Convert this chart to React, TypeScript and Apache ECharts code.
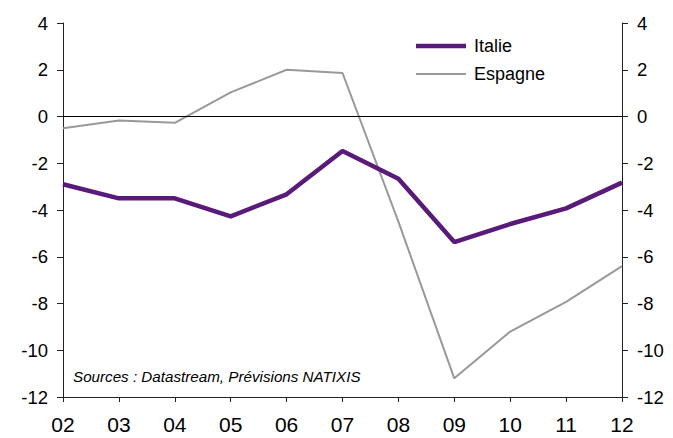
import React, { useEffect, useRef } from "react";
import * as echarts from "echarts";

const categories = ["02", "03", "04", "05", "06", "07", "08", "09", "10", "11", "12"];
const italie = [-2.9, -3.5, -3.5, -4.27, -3.33, -1.48, -2.66, -5.37, -4.6, -3.93, -2.83];
const espagne = [-0.5, -0.17, -0.27, 1.03, 2.0, 1.86, -4.5, -11.2, -9.2, -7.93, -6.4];
const seriesNames = ["Italie", "Espagne"];
const yMin = -12;
const yMax = 4;
const yStep = 2;
const sourceText = "Sources : Datastream, Prévisions NATIXIS";

const FONT = "'Liberation Sans', Arial, sans-serif";
const PURPLE = "#5a1a7a";
const GREY = "#999999";

export default function App() {
  const ref = useRef<HTMLDivElement>(null);
  useEffect(() => {
    document.body.style.margin = "0";
    const chart = echarts.init(ref.current!, null, { renderer: "svg" });
    const axisLineStyle = { color: "#222", width: 1 };
    const yAxisCommon = {
      type: "value" as const,
      min: yMin,
      max: yMax,
      interval: yStep,
      splitLine: { show: false },
      axisLine: { show: true, lineStyle: axisLineStyle },
      axisTick: { show: true, length: 6, lineStyle: axisLineStyle },
      axisLabel: { color: "#000", fontSize: 18.5, fontFamily: FONT, margin: 15 },
    };
    const legendItem = (name: string, y: number, color: string, width: number) => [
      {
        type: "line",
        shape: { x1: 416, y1: y, x2: 466, y2: y },
        style: { stroke: color, lineWidth: width },
      },
      {
        type: "text",
        x: 474,
        y: y,
        style: {
          text: name,
          fontSize: 18,
          fontFamily: FONT,
          fill: "#000",
          verticalAlign: "middle",
          align: "left",
        },
      },
    ];
    chart.setOption({
      animation: false,
      backgroundColor: "#fff",
      grid: { left: 63, right: 51, top: 23, bottom: 41, containLabel: false },
      xAxis: {
        type: "category",
        data: categories,
        boundaryGap: false,
        axisLine: { onZero: false, lineStyle: axisLineStyle },
        axisTick: { show: true, length: 5, alignWithLabel: true, lineStyle: axisLineStyle },
        axisLabel: { color: "#000", fontSize: 21, fontFamily: FONT, margin: 17 },
        splitLine: { show: false },
      },
      yAxis: [
        { ...yAxisCommon, position: "left" },
        { ...yAxisCommon, position: "right" },
      ],
      graphic: [
        ...legendItem(seriesNames[0], 46, PURPLE, 4.5),
        ...legendItem(seriesNames[1], 74, GREY, 2),
        {
          type: "text",
          left: 73,
          top: 369,
          style: {
            text: sourceText,
            fontSize: 15.2,
            fontStyle: "italic",
            fontFamily: FONT,
            fill: "#000",
          },
        },
      ],
      series: [
        {
          name: seriesNames[1],
          type: "line",
          data: espagne,
          symbol: "none",
          lineStyle: { color: GREY, width: 2 },
          itemStyle: { color: GREY },
          z: 2,
          markLine: {
            silent: true,
            symbol: "none",
            label: { show: false },
            lineStyle: { color: "#000", width: 1, type: "solid" },
            data: [{ yAxis: 0 }],
          },
        },
        {
          name: seriesNames[0],
          type: "line",
          data: italie,
          symbol: "none",
          lineStyle: { color: PURPLE, width: 4.5 },
          itemStyle: { color: PURPLE },
          z: 3,
        },
      ],
    });
    return () => chart.dispose();
  }, []);
  return <div ref={ref} style={{ width: 673, height: 438 }} />;
}
